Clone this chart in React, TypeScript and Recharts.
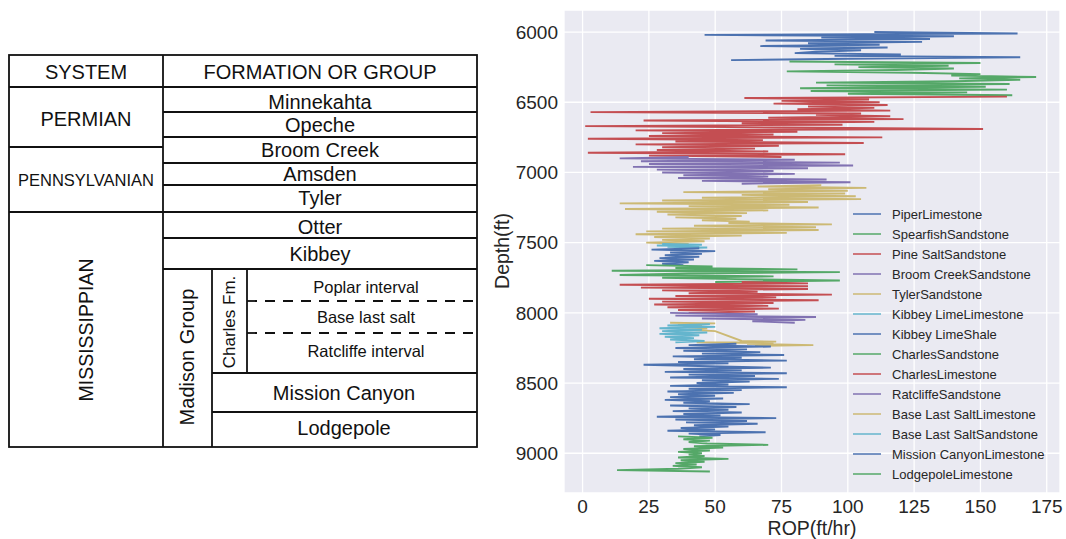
import React from 'react';
import { LineChart, Line, XAxis, YAxis, CartesianGrid, Legend } from 'recharts';

const FONT = '"Liberation Sans", Arial, Helvetica, sans-serif';
const INK = '#262626';

// formation names, in plotting/legend order
const NAMES = [
  'PiperLimestone',
  'SpearfishSandstone',
  'Pine SaltSandstone',
  'Broom CreekSandstone',
  'TylerSandstone',
  'Kibbey LimeLimestone',
  'Kibbey LimeShale',
  'CharlesSandstone',
  'CharlesLimestone',
  'RatcliffeSandstone',
  'Base Last SaltLimestone',
  'Base Last SaltSandstone',
  'Mission CanyonLimestone',
  'LodgepoleLimestone',
];

const COLORS = [
  '#4C72B0', '#55A868', '#C44E52', '#8172B2', '#CCB974', '#64B5CD',
  '#4C72B0', '#55A868', '#C44E52', '#8172B2', '#CCB974', '#64B5CD',
  '#4C72B0', '#55A868',
];

// top depth (ft) and sample interval (ft) of each formation log
const TOPS = [6000, 6210, 6460, 6890, 7090, 7510, 7540, 7660, 7780, 8000, 8070, 8080, 8220, 8880];
const STEPS = [10, 10, 10, 10, 10, 5, 10, 10, 10, 10, 5, 10, 10, 10];

// ROP (ft/hr) readings
const PIPER = [110, 164, 46, 140, 90, 131, 69, 128, 85, 112, 67, 115, 82, 105, 88, 80, 120, 95, 165, 100, 56];
const SPEARFISH = [78, 150, 95, 138, 104, 140, 118, 77, 124, 150, 139, 171, 142, 165, 140, 88, 161, 92, 152, 82, 160, 86, 145, 100, 162];
const PINE_SALT = [
  160, 61, 108, 75, 112, 72, 115, 85, 110, 81, 116, 3, 105, 88, 116, 70, 121, 23, 110, 60, 98, 1,
  75, 151, 20, 81, 30, 72, 25, 113, 2, 68, 35, 106, 20, 74, 30, 65, 28, 70, 2, 99, 25, 75,
];
const BROOM_CREEK = [40, 14, 80, 22, 97, 25, 102, 19, 85, 28, 72, 30, 80, 38, 70, 36, 92, 45, 101, 60];
const TYLER = [
  90, 66, 107, 70, 100, 38, 99, 60, 103, 45, 105, 30, 85, 14, 78, 40, 89, 16, 70, 28, 62, 32,
  60, 35, 58, 45, 63, 55, 94, 42, 88, 30, 89, 24, 77, 20, 60, 27, 48, 30, 46, 24, 40,
];
const KIBBEY_LIME = [30, 45, 28, 44, 32, 47, 35];
const KIBBEY_SHALE = [44, 26, 50, 33, 45, 31, 44, 29, 42, 27, 40, 30, 38];
const CHARLES_SS = [24, 49, 35, 81, 11, 97, 40, 14, 72, 30, 58, 97, 50];
const CHARLES_LS = [60, 85, 14, 85, 22, 85, 30, 66, 40, 94, 35, 73, 25, 89, 30, 72, 27, 70, 32, 74, 36, 65, 40];
const RATCLIFFE = [33, 66, 35, 88, 45, 84, 64, 80];
const BLS_LIME = [33, 50, 36, 45, 38, 47, 40, 50, 60, 73, 43, 72, 62, 74, 87, 65];
const BLS_LIME_DEPTHS = [8070, 8075, 8080, 8090, 8100, 8110, 8120, 8130, 8200, 8205, 8210, 8215, 8220, 8225, 8230, 8235];
const BLS_SS = [48, 32, 50, 29, 45, 30, 47, 29, 44, 31, 42, 33, 46, 35];
const MISSION_CANYON = [
  58, 40, 71, 35, 62, 38, 67, 45, 76, 34, 60, 42, 77, 36, 55, 23, 48, 71, 38, 60, 31, 77, 40,
  65, 33, 74, 45, 63, 43, 55, 33, 77, 40, 60, 32, 57, 36, 50, 33, 53, 31, 48, 38, 63, 33, 58,
  40, 55, 34, 60, 38, 52, 28, 73, 35, 62, 39, 66, 42, 55, 37, 50, 32, 69, 40, 52, 44,
];
const LODGEPOLE = [36, 49, 38, 48, 40, 47, 70, 42, 53, 38, 48, 36, 45, 40, 46, 36, 55, 37, 46, 35, 43, 34, 45, 36, 13, 48];

const ROPS = [
  PIPER, SPEARFISH, PINE_SALT, BROOM_CREEK, TYLER, KIBBEY_LIME, KIBBEY_SHALE,
  CHARLES_SS, CHARLES_LS, RATCLIFFE, BLS_LIME, BLS_SS, MISSION_CANYON, LODGEPOLE,
];

const X_TICKS = [0, 25, 50, 75, 100, 125, 150, 175];
const Y_TICKS = [6000, 6500, 7000, 7500, 8000, 8500, 9000];

const series = NAMES.map((name, i) => {
  const vals = ROPS[i];
  const depths = i === 10 ? BLS_LIME_DEPTHS : vals.map((_, k) => TOPS[i] + k * STEPS[i]);
  return { name, color: COLORS[i], data: vals.map((rop, k) => ({ depth: depths[k], rop })) };
});

const LegendBox = () => (
  <div style={{ fontFamily: FONT, fontSize: 13, color: INK }}>
    {series.map((s) => (
      <div key={s.name} style={{ height: 20, display: 'flex', alignItems: 'center', whiteSpace: 'nowrap' }}>
        <svg width={39} height={20} style={{ flex: 'none' }}>
          <line x1={0} y1={10} x2={28} y2={10} stroke={s.color} strokeWidth={1.5} />
        </svg>
        <span>{s.name}</span>
      </div>
    ))}
  </div>
);

const XTitle = () => (
  <text x={332} y={535} textAnchor="middle" fill={INK} fontSize={19.5} fontFamily={FONT}>
    ROP(ft/hr)
  </text>
);

const YTitle = () => (
  <text
    x={22}
    y={251}
    textAnchor="middle"
    dominantBaseline="central"
    transform="rotate(-90 22 251)"
    fill={INK}
    fontSize={19.5}
    fontFamily={FONT}
  >
    Depth(ft)
  </text>
);

// stratigraphic column on the left
const StratColumn = () => {
  const st = { stroke: '#111', strokeWidth: 1.8 };
  const txt = { fill: '#111', fontFamily: FONT, textAnchor: 'middle' as const, dominantBaseline: 'central' as const };
  const rows = [112, 137, 163, 185, 212, 238, 269];
  return (
    <svg width={490} height={539} style={{ position: 'absolute', left: 0, top: 0 }}>
      <rect x={9} y={55} width={468} height={392} fill="#fff" {...st} />
      <line x1={163} y1={55} x2={163} y2={447} {...st} />
      <line x1={9} y1={87} x2={477} y2={87} {...st} />
      <line x1={9} y1={147} x2={163} y2={147} {...st} />
      <line x1={9} y1={212} x2={163} y2={212} {...st} />
      {rows.map((y) => (
        <line key={y} x1={163} y1={y} x2={477} y2={y} {...st} />
      ))}
      <line x1={212} y1={269} x2={212} y2={447} {...st} />
      <line x1={247} y1={269} x2={247} y2={373} {...st} />
      <line x1={212} y1={373} x2={477} y2={373} {...st} />
      <line x1={212} y1={412} x2={477} y2={412} {...st} />
      <line x1={247} y1={301} x2={477} y2={301} {...st} strokeDasharray="10 8" />
      <line x1={247} y1={333} x2={477} y2={333} {...st} strokeDasharray="10 8" />

      <text x={86} y={72} fontSize={20} {...txt}>SYSTEM</text>
      <text x={320} y={72} fontSize={20} {...txt}>FORMATION OR GROUP</text>
      <text x={86} y={119} fontSize={20} {...txt}>PERMIAN</text>
      <text x={86} y={180} fontSize={16.5} {...txt}>PENNSYLVANIAN</text>
      <text x={86} y={330} fontSize={19.5} transform="rotate(-90 86 330)" {...txt}>MISSISSIPPIAN</text>
      <text x={320} y={102} fontSize={20} {...txt}>Minnekahta</text>
      <text x={320} y={125} fontSize={20} {...txt}>Opeche</text>
      <text x={320} y={150} fontSize={20} {...txt}>Broom Creek</text>
      <text x={320} y={174} fontSize={20} {...txt}>Amsden</text>
      <text x={320} y={198} fontSize={20} {...txt}>Tyler</text>
      <text x={320} y={227} fontSize={20} {...txt}>Otter</text>
      <text x={320} y={254} fontSize={20} {...txt}>Kibbey</text>
      <text x={187} y={357} fontSize={20} transform="rotate(-90 187 357)" {...txt}>Madison Group</text>
      <text x={229} y={322} fontSize={17} transform="rotate(-90 229 322)" {...txt}>Charles Fm.</text>
      <text x={366} y={287} fontSize={16.5} {...txt}>Poplar interval</text>
      <text x={366} y={317} fontSize={16.5} {...txt}>Base last salt</text>
      <text x={366} y={351} fontSize={16.5} {...txt}>Ratcliffe interval</text>
      <text x={344} y={393} fontSize={20} {...txt}>Mission Canyon</text>
      <text x={344} y={428} fontSize={20} {...txt}>Lodgepole</text>
    </svg>
  );
};

export default function App() {
  return (
    <div style={{ position: 'absolute', left: 0, top: 0, width: 1066, height: 539, background: '#fff' }}>
      <StratColumn />
      <div style={{ position: 'absolute', left: 480, top: 0 }}>
        <LineChart width={586} height={539} layout="vertical" margin={{ top: 10, right: 6, bottom: 16, left: 14 }}>
          <CartesianGrid fill="#EAEAF2" stroke="#ffffff" strokeWidth={1.3} />
          <XAxis
            type="number"
            domain={[-7, 180]}
            ticks={X_TICKS}
            allowDataOverflow
            interval={0}
            tickLine={false}
            axisLine={false}
            height={30}
            tickSize={5}
            tick={{ fill: INK, fontSize: 19, fontFamily: FONT }}
            label={XTitle}
          />
          <YAxis
            type="number"
            dataKey="depth"
            domain={[5843, 9283]}
            ticks={Y_TICKS}
            allowDataOverflow
            interval={0}
            tickLine={false}
            axisLine={false}
            width={70}
            tickSize={4}
            tick={{ fill: INK, fontSize: 19, fontFamily: FONT }}
            label={YTitle}
          />
          <Legend
            layout="vertical"
            align="center"
            verticalAlign="middle"
            content={LegendBox}
            wrapperStyle={{ left: 373, top: 204, width: 215 }}
          />
          {series.map((s) => (
            <Line
              key={s.name}
              name={s.name}
              data={s.data}
              dataKey="rop"
              type="linear"
              stroke={s.color}
              strokeWidth={1.9}
              dot={false}
              activeDot={false}
              isAnimationActive={false}
            />
          ))}
        </LineChart>
      </div>
    </div>
  );
}
